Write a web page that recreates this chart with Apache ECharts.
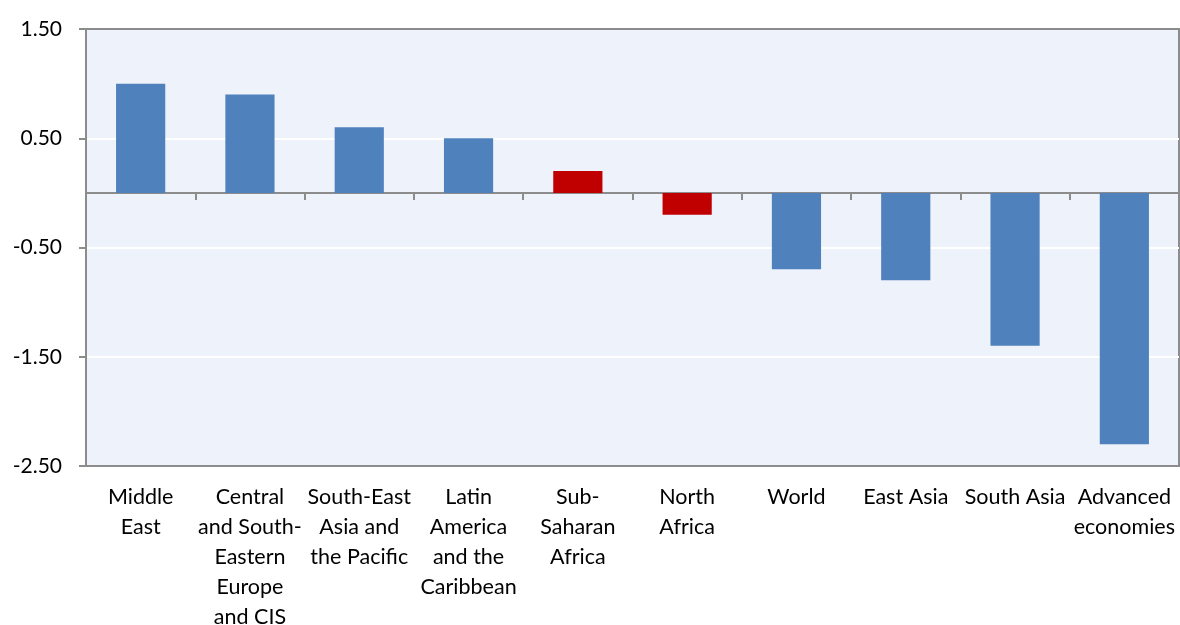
<!DOCTYPE html>
<html>
<head>
<meta charset="utf-8">
<script src="https://cdn.jsdelivr.net/npm/echarts@6/dist/echarts.min.js"></script>
<style>
  html, body { margin: 0; padding: 0; background: #fff; }
  #chart { width: 1180px; height: 625px; }
</style>
</head>
<body>
<div id="chart"></div>
<script>
var categories = ['Middle\nEast', 'Central\nand South-\nEastern\nEurope\nand CIS', 'South-East\nAsia and\nthe Pacific',
  'Latin\nAmerica\nand the\nCaribbean', 'Sub-\nSaharan\nAfrica', 'North\nAfrica', 'World', 'East Asia', 'South Asia',
  'Advanced\neconomies'];
var values = [1.00, 0.90, 0.60, 0.50, 0.20, -0.20, -0.70, -0.80, -1.40, -2.30];
// Africa regions are drawn in red
var highlighted = ['Sub-\nSaharan\nAfrica', 'North\nAfrica'];
var yTicks = { min: -2.5, max: 1.5, interval: 1 };

var chart = echarts.init(document.getElementById('chart'));
var gray = '#8c8c8c';
var font = 'Lato, "Open Sans", sans-serif';

var option = {
  animation: false,
  grid: {
    left: 86, right: 1, top: 29, bottom: 159,
    outerBoundsMode: 'none',
    containLabel: false,
    show: true,
    backgroundColor: '#eef2fa',
    borderColor: gray,
    borderWidth: 2
  },
  xAxis: [{
    type: 'category',
    data: categories,
    position: 'bottom',
    axisLine: { onZero: false, lineStyle: { color: gray, width: 2 } },
    axisTick: { show: false },
    axisLabel: {
      interval: 0,
      margin: 16,
      color: '#000',
      fontSize: 21.5,
      lineHeight: 30,
      fontFamily: font
    }
  }, {
    // zero line with boundary ticks
    type: 'category',
    data: categories,
    position: 'bottom',
    axisLine: { onZero: true, lineStyle: { color: gray, width: 2 } },
    axisTick: { show: true, length: 7, lineStyle: { color: gray, width: 2 } },
    axisLabel: { show: false }
  }],
  yAxis: {
    type: 'value',
    min: yTicks.min,
    max: yTicks.max,
    interval: yTicks.interval,
    axisLine: { show: true, lineStyle: { color: gray, width: 2 } },
    axisTick: { show: true, length: 7, lineStyle: { color: gray, width: 2 } },
    axisLabel: {
      margin: 24,
      color: '#000',
      fontSize: 21,
      fontFamily: font,
      formatter: function (v) { return v.toFixed(2); }
    },
    splitLine: {
      show: true,
      showMinLine: false,
      showMaxLine: false,
      lineStyle: { color: '#ffffff', width: 2 }
    }
  },
  series: [{
    type: 'bar',
    xAxisIndex: 0,
    data: values,
    barWidth: '45%',
    itemStyle: {
      color: function (p) {
        return highlighted.indexOf(categories[p.dataIndex]) >= 0 ? '#c00000' : '#4f81bd';
      }
    }
  }]
};

chart.setOption(option);
window.onresize = function () { chart.resize(); };
</script>
</body>
</html>
